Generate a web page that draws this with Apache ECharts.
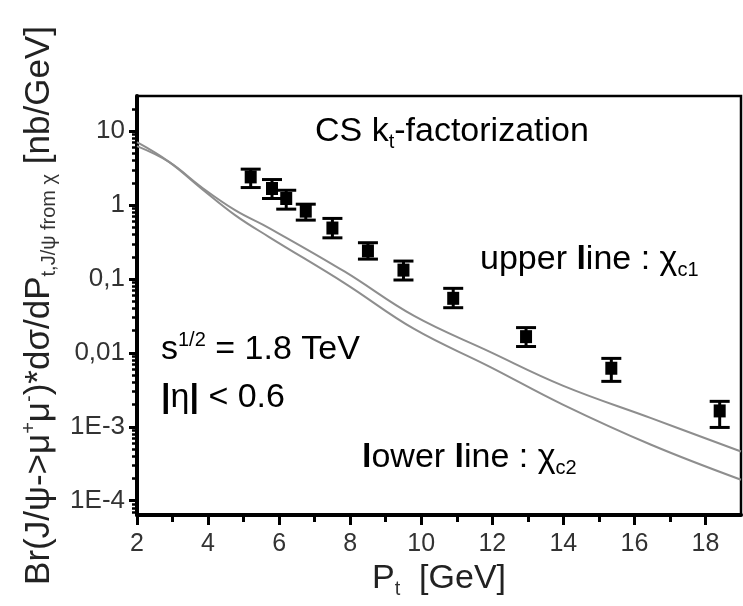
<!DOCTYPE html>
<html lang="en">
<head>
    <meta charset="UTF-8">
    <title>CS kt-factorization</title>
    <script src="https://cdn.jsdelivr.net/npm/echarts@6/dist/echarts.min.js"></script>
    <style>
        html, body { margin: 0; padding: 0; background: #fff; }
        #box { width: 743px; height: 606px; }
    </style>
</head>
<body>
    <div id="box"></div>
    <script>
        // data points (with error bars)
        var ptX = [5.2, 5.8, 6.2, 6.75, 7.5, 8.5, 9.5, 10.9, 12.95, 15.35, 18.4];
        var ptY = [2.41, 1.68, 1.23, 0.83, 0.49, 0.24, 0.132, 0.0548, 0.0166, 0.0062, 0.00164];
        var ptLow = [1.73, 1.23, 0.883, 0.627, 0.361, 0.186, 0.097, 0.0409, 0.0122, 0.00412, 0.00098];
        var ptHigh = [3.07, 2.22, 1.59, 1.03, 0.661, 0.31, 0.175, 0.0748, 0.022, 0.00843, 0.00221];

        // theory curves
        var curveX = [2, 2.9, 3.8, 4.76, 5.72, 7.85, 9.8, 11.92, 14, 16.47, 19];
        var chiC1 = [6.3, 3.85, 1.77, 0.855, 0.489, 0.1256, 0.0316, 0.0104, 0.00358, 0.00131, 0.000463];
        var chiC2 = [7.1, 3.85, 1.70, 0.733, 0.37, 0.0875, 0.0211, 0.00653, 0.00198, 0.000571, 0.000192];

        // ticks
        var xTicks = [2, 4, 6, 8, 10, 12, 14, 16, 18];
        var xMinorTicks = [3, 5, 7, 9, 11, 13, 15, 17];
        var yTicks = [1e-4, 1e-3, 0.01, 0.1, 1, 10];
        var yTickLabels = ['1E-4', '1E-3', '0,01', '0,1', '1', '10'];
        var yMinorTicks = [];
        for (var d = -5; d <= 1; d++) {
            for (var m = 2; m <= 9; m++) {
                var v = m * Math.pow(10, d);
                if (v > 6.4e-5 && v < 30) yMinorTicks.push(v);
            }
        }

        var FONT = 'Liberation Sans, Arial, sans-serif';

        var points = ptX.map(function (x, i) {
            return [x, ptY[i], ptLow[i], ptHigh[i]];
        });

        function zip(xs, ys) {
            return xs.map(function (x, i) { return [x, ys[i]]; });
        }

        function errorBar(params, api) {
            var x = api.value(0);
            var c = api.coord([x, api.value(1)]);
            var lo = api.coord([x, api.value(2)]);
            var hi = api.coord([x, api.value(3)]);
            var cap = 10, half = 6;
            var st = { stroke: '#000', lineWidth: 3 };
            return {
                type: 'group',
                children: [
                    { type: 'line', shape: { x1: c[0], y1: hi[1], x2: c[0], y2: lo[1] }, style: st },
                    { type: 'line', shape: { x1: c[0] - cap, y1: hi[1], x2: c[0] + cap, y2: hi[1] }, style: st },
                    { type: 'line', shape: { x1: c[0] - cap, y1: lo[1], x2: c[0] + cap, y2: lo[1] }, style: st },
                    { type: 'rect', shape: { x: c[0] - half, y: c[1] - half - 0.5, width: half * 2, height: half * 2 + 1 }, style: { fill: '#000' } }
                ]
            };
        }

        var rich = {
            m: { fontSize: 34, lineHeight: 40, fontFamily: FONT, color: '#222' },
            b: { fontSize: 34, lineHeight: 40, fontFamily: FONT, color: '#000', fontWeight: 'bold' },
            sub: { fontSize: 20, lineHeight: 22, fontFamily: FONT, color: '#333', verticalAlign: 'bottom' },
            sup: { fontSize: 20, lineHeight: 22, fontFamily: FONT, color: '#333', verticalAlign: 'top' }
        };
        var richY = {
            m: { fontSize: 35, lineHeight: 40, fontFamily: FONT, color: '#222' },
            sub: { fontSize: 20, lineHeight: 22, fontFamily: FONT, color: '#333', verticalAlign: 'bottom' },
            sup: { fontSize: 20, lineHeight: 22, fontFamily: FONT, color: '#333', verticalAlign: 'top' }
        };

        function label(x, y, text) {
            return {
                type: 'text', x: x, y: y,
                style: { text: text, rich: rich, align: 'left', verticalAlign: 'middle' }
            };
        }

        var myChart = echarts.init(document.getElementById('box'));

        var option = {
            backgroundColor: '#fff',
            animation: false,
            grid: {
                left: 137, right: 2, top: 96, bottom: 91,
                outerBoundsMode: 'none', containLabel: false,
                show: true, borderColor: '#000', borderWidth: 2.5
            },
            xAxis: [{
                type: 'value', min: 2, max: 19,
                name: '{m|P}{sub|t}{m|  [GeV]}',
                nameLocation: 'middle', nameGap: 44,
                nameTextStyle: { rich: rich },
                axisLine: { lineStyle: { color: '#000', width: 4 } },
                axisTick: { customValues: xTicks, length: 10, lineStyle: { color: '#000', width: 3 } },
                axisLabel: { customValues: xTicks, fontSize: 25, fontFamily: FONT, color: '#333', margin: 17 },
                splitLine: { show: false }
            }, {
                type: 'value', min: 2, max: 19, position: 'bottom',
                axisLine: { show: false },
                axisTick: { customValues: xMinorTicks, length: 7, lineStyle: { color: '#000', width: 3 } },
                axisLabel: { show: false },
                splitLine: { show: false }
            }],
            yAxis: [{
                type: 'log', min: 6.4e-5, max: 30, position: 'left',
                name: '{m|Br(J/ψ->μ}{sup|+}{m|μ}{sup|-}{m|)*dσ/dP}{sub|t,J/ψ from χ}{m| [nb/GeV]}',
                nameLocation: 'middle', nameGap: 78, nameRotate: 90,
                nameTextStyle: { rich: richY },
                axisLine: { lineStyle: { color: '#000', width: 4 } },
                axisTick: { customValues: yTicks, length: 8, lineStyle: { color: '#000', width: 3 } },
                axisLabel: {
                    customValues: yTicks, fontSize: 26, fontFamily: FONT, color: '#333', margin: 12,
                    formatter: function (v) {
                        var e = Math.round(Math.log10(v));
                        return yTickLabels[e + 4];
                    }
                },
                splitLine: { show: false }
            }, {
                type: 'log', min: 6.4e-5, max: 30, position: 'left',
                axisLine: { show: false },
                axisTick: { customValues: yMinorTicks, length: 5, lineStyle: { color: '#000', width: 2.5 } },
                axisLabel: { show: false },
                splitLine: { show: false }
            }],
            series: [{
                name: 'chi_c1', type: 'line', data: zip(curveX, chiC1),
                smooth: 0.4, symbol: 'none',
                lineStyle: { color: '#8e8e8e', width: 2 }
            }, {
                name: 'chi_c2', type: 'line', data: zip(curveX, chiC2),
                smooth: 0.4, symbol: 'none',
                lineStyle: { color: '#8e8e8e', width: 2 }
            }, {
                name: 'data', type: 'custom', renderItem: errorBar,
                encode: { x: 0, y: [1, 2, 3] },
                data: points, z: 5
            }],
            graphic: [
                label(315, 132, '{m|CS k}{sub|t}{m|-factorization}'),
                label(480, 260, '{m|upper }{b|l}{m|ine : χ}{sub|c1}'),
                label(362, 458, '{b|l}{m|ower }{b|l}{m|ine : χ}{sub|c2}'),
                label(161, 350, '{m|s}{sup|1/2}{m| = 1.8 TeV}'),
                label(161, 398, '{b||}{m|η}{b||}{m| < 0.6}')
            ]
        };

        myChart.setOption(option);
    </script>
</body>
</html>
